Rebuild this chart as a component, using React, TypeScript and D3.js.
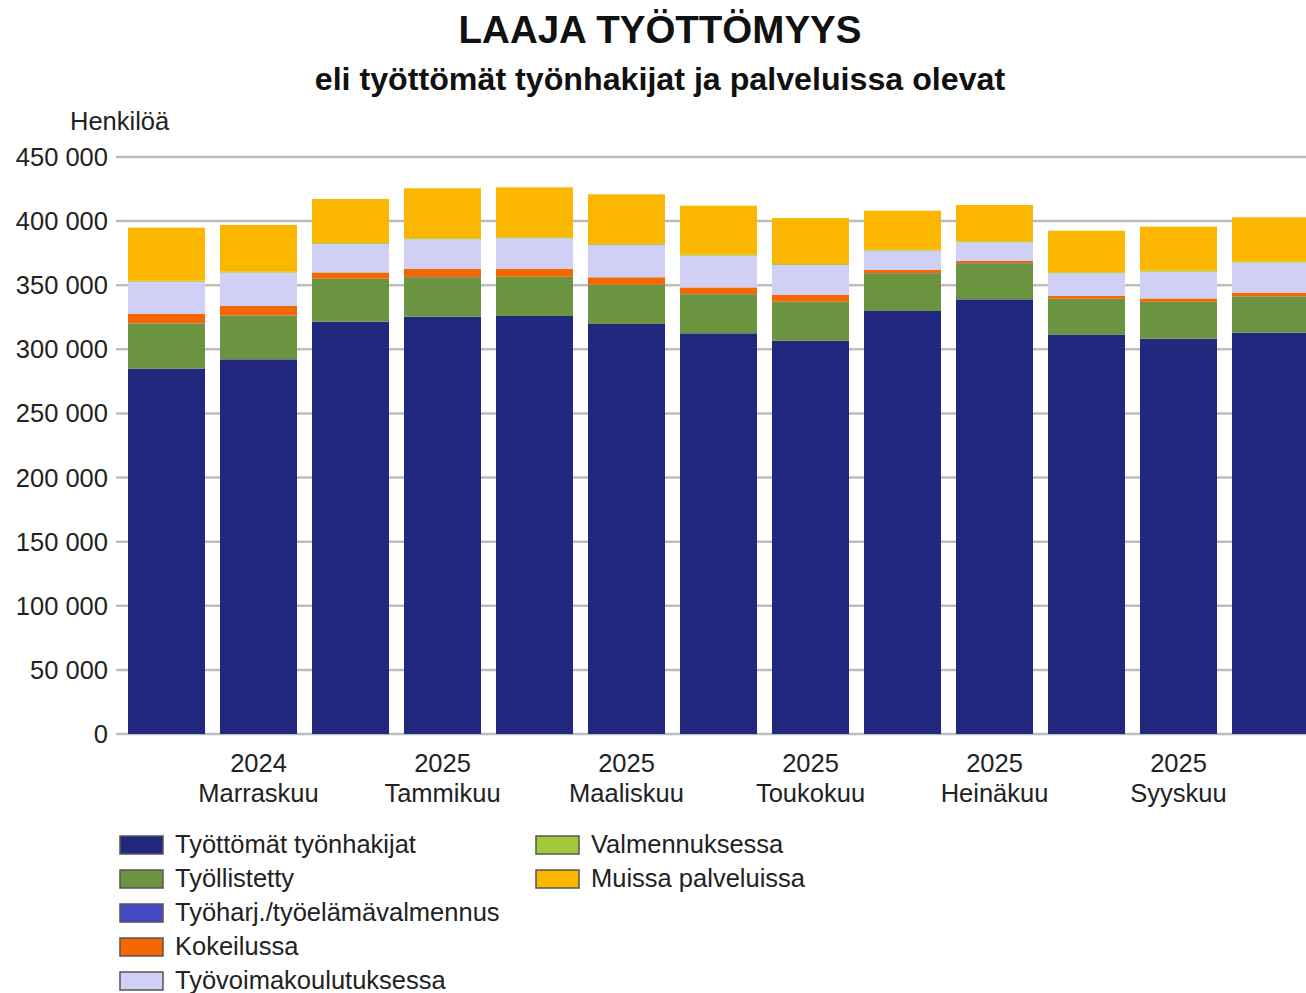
import * as d3 from 'd3';
import { useEffect, useRef } from 'react';

const months = [
  'Lokakuu 2024', 'Marraskuu 2024', 'Joulukuu 2024', 'Tammikuu 2025', 'Helmikuu 2025',
  'Maaliskuu 2025', 'Huhtikuu 2025', 'Toukokuu 2025', 'Kesäkuu 2025', 'Heinäkuu 2025',
  'Elokuu 2025', 'Syyskuu 2025', 'Lokakuu 2025'
];

// labelled months on the x axis (every second bar)
const tickYears = ['', '2024', '', '2025', '', '2025', '', '2025', '', '2025', '', '2025', ''];
const tickMonths = ['', 'Marraskuu', '', 'Tammikuu', '', 'Maaliskuu', '', 'Toukokuu', '', 'Heinäkuu', '', 'Syyskuu', ''];

const tyottomat = [285000, 292200, 321600, 325500, 326000, 319800, 312500, 306700, 329900, 339000, 311600, 308300, 313000];
const tyollistetty = [35100, 34000, 33300, 30700, 30400, 30400, 30400, 30200, 29400, 28100, 27700, 28600, 28100];
const tyoharj = [200, 200, 200, 200, 200, 200, 200, 200, 200, 200, 200, 200, 200];
const kokeilussa = [7300, 7400, 4900, 6300, 6300, 5800, 5200, 5500, 2400, 1600, 2100, 2600, 2900];
const koulutuksessa = [25100, 26000, 22200, 23100, 23700, 25200, 24700, 23200, 15000, 14600, 17700, 20800, 23400];
const valmennuksessa = [800, 800, 800, 800, 800, 800, 800, 800, 800, 800, 800, 800, 800];
const muissa = [41400, 36400, 34300, 39000, 39000, 38700, 38200, 35800, 30400, 28300, 32400, 34400, 34600];

const yTicks = [0, 50000, 100000, 150000, 200000, 250000, 300000, 350000, 400000, 450000];

const seriesNames = [
  'Työttömät työnhakijat', 'Työllistetty', 'Työharj./työelämävalmennus', 'Kokeilussa',
  'Työvoimakoulutuksessa', 'Valmennuksessa', 'Muissa palveluissa'
];
const seriesColors = ['#23287f', '#6b9440', '#4449c6', '#f56700', '#d0d0f6', '#a0c93c', '#fbb600'];

const App = () => {
  const ref = useRef<SVGSVGElement | null>(null);

  useEffect(() => {
    if (!ref.current) return;
    const svg = d3.select(ref.current);
    svg.selectAll('*').remove();

    const width = 1306;
    const font = 'Liberation Sans, Arial, sans-serif';
    const fs = 25.5;

    const allSeries = [tyottomat, tyollistetty, tyoharj, kokeilussa, koulutuksessa, valmennuksessa, muissa];
    const table = months.map((m, i) => {
      const row: Record<string, any> = { month: m };
      seriesNames.forEach((s, k) => (row[s] = allSeries[k][i]));
      return row;
    });

    const x = d3
      .scaleBand()
      .domain(months)
      .range([120.5, 120.5 + 13 * 92])
      .paddingInner(0.163)
      .paddingOuter(0.0815);

    const y = d3.scaleLinear().domain([0, 450000]).range([734, 157]);

    const fmt = (v: number) => d3.format(',')(v).replace(/,/g, ' ');

    // title
    svg.append('text')
      .attr('x', 660).attr('y', 43)
      .attr('text-anchor', 'middle')
      .attr('font-family', font).attr('font-weight', 'bold').attr('font-size', 38.5)
      .attr('fill', '#111')
      .text('LAAJA TYÖTTÖMYYS');
    svg.append('text')
      .attr('x', 660).attr('y', 90)
      .attr('text-anchor', 'middle')
      .attr('font-family', font).attr('font-weight', 'bold').attr('font-size', 32.2)
      .attr('fill', '#111')
      .text('eli työttömät työnhakijat ja palveluissa olevat');
    svg.append('text')
      .attr('x', 70).attr('y', 130)
      .attr('font-family', font).attr('font-size', fs)
      .attr('fill', '#222')
      .text('Henkilöä');

    // grid
    svg.append('g')
      .selectAll('line')
      .data(yTicks)
      .enter()
      .append('line')
      .attr('x1', 116).attr('x2', width)
      .attr('y1', d => y(d)).attr('y2', d => y(d))
      .attr('stroke', '#bdbdbd').attr('stroke-width', 2.5);

    svg.append('g')
      .selectAll('text')
      .data(yTicks)
      .enter()
      .append('text')
      .attr('x', 108)
      .attr('y', d => y(d) + 9)
      .attr('text-anchor', 'end')
      .attr('font-family', font).attr('font-size', fs)
      .attr('fill', '#222')
      .text(d => fmt(d));

    // bars
    const stacked = d3.stack<Record<string, any>>().keys(seriesNames)(table);
    svg.append('g')
      .selectAll('g')
      .data(stacked)
      .enter()
      .append('g')
      .attr('fill', (_d, i) => seriesColors[i])
      .selectAll('rect')
      .data(d => d)
      .enter()
      .append('rect')
      .attr('x', d => x(d.data.month) || 0)
      .attr('y', d => y(d[1]))
      .attr('width', x.bandwidth())
      .attr('height', d => y(d[0]) - y(d[1]));

    // x labels
    const xl = svg.append('g');
    months.forEach((m, i) => {
      if (!tickYears[i]) return;
      const cx = (x(m) || 0) + x.bandwidth() / 2;
      xl.append('text')
        .attr('x', cx).attr('y', 772)
        .attr('text-anchor', 'middle')
        .attr('font-family', font).attr('font-size', fs)
        .attr('fill', '#222')
        .text(tickYears[i]);
      xl.append('text')
        .attr('x', cx).attr('y', 802)
        .attr('text-anchor', 'middle')
        .attr('font-family', font).attr('font-size', fs)
        .attr('fill', '#222')
        .text(tickMonths[i]);
    });

    // legend
    const lg = svg.append('g');
    seriesNames.forEach((s, i) => {
      const col = i < 5 ? 0 : 1;
      const row = i < 5 ? i : i - 5;
      const lx = col === 0 ? 120 : 536;
      const ly = 845 + row * 34;
      lg.append('rect')
        .attr('x', lx).attr('y', ly - 9)
        .attr('width', 43).attr('height', 18)
        .attr('fill', seriesColors[i])
        .attr('stroke', '#555').attr('stroke-width', 1.5);
      lg.append('text')
        .attr('x', lx + 55).attr('y', ly + 8)
        .attr('font-family', font).attr('font-size', fs)
        .attr('fill', '#222')
        .text(s);
    });
  }, []);

  return (
    <svg
      ref={ref}
      width={1306}
      height={993}
      style={{ position: 'absolute', left: 0, top: 0, background: '#fff' }}
    />
  );
};

export default App;
